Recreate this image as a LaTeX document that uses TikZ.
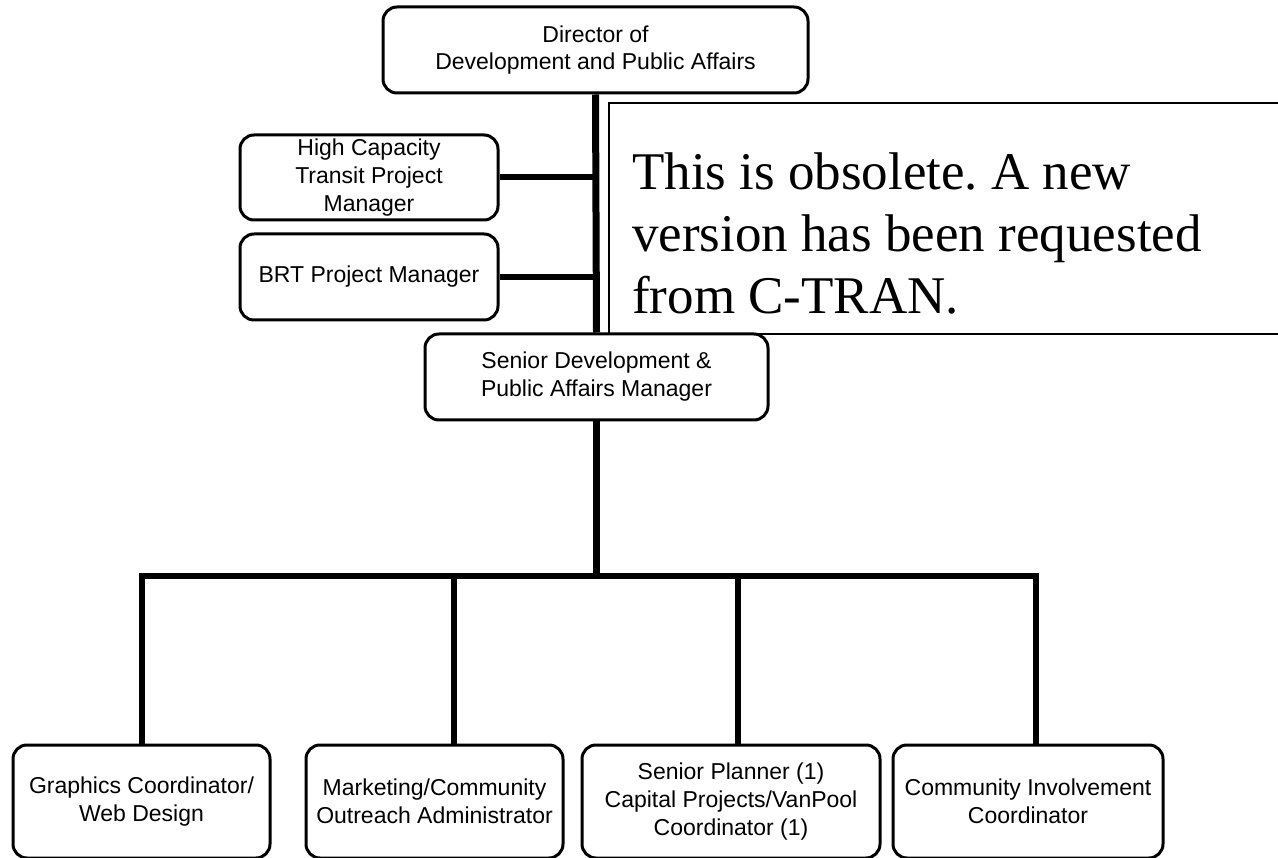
\documentclass[tikz,border=0pt]{standalone}
\usepackage{fontspec}
\setmainfont{Liberation Sans}
\newfontfamily\noticefont{Liberation Serif}
\frenchspacing
\begin{document}
\begin{tikzpicture}[x=1pt,y=-1pt,
  box/.style={draw, line width=3pt, rounded corners=14pt, fill=white,
    align=center, inner sep=0pt, font=\fontsize{23}{28}\selectfont},
  link/.style={line width=6pt},
  trunk/.style={line width=7pt},
  notice/.style={draw, line width=1.5pt, fill=white}]
\useasboundingbox (0,0) rectangle (1278,858);
\fill[white] (0,0) rectangle (1278,858);

% notice panel, open to the right edge
\draw[notice] (609,103) rectangle (1290,334);
\node[anchor=north west, inner sep=0pt, align=left,
  font=\noticefont\fontsize{53}{62}\selectfont] (note) at (632,153)
  {This is obsolete. A new\\version has been requested\\from C-TRAN.};

% upper level
\node[box, minimum width=425pt, minimum height=86pt,
  font=\fontsize{23}{27}\selectfont] (dir) at (595.5,50)
  {Director of\\Development and Public Affairs};
\node[box, minimum width=258pt, minimum height=85pt] (hc) at (369,177.5)
  {High Capacity\\Transit Project\\Manager};
\node[box, minimum width=258pt, minimum height=86pt] (brt) at (369,277)
  {BRT Project Manager};
\node[box, minimum width=343pt, minimum height=86pt] (sdm) at (596.5,377)
  {Senior Development \&\\Public Affairs Manager};

% staff level
\node[box, minimum width=257pt, minimum height=113pt] (g1) at (141.5,801.5)
  {Graphics Coordinator/\\Web Design};
\node[box, minimum width=257pt, minimum height=113pt] (g2) at (434.5,801.5)
  {Marketing/Community\\Outreach Administrator};
\node[box, minimum width=298pt, minimum height=113pt] (g3) at (731,801.5)
  {Senior Planner (1)\\Capital Projects/VanPool\\Coordinator (1)};
\node[box, minimum width=270pt, minimum height=113pt] (g4) at (1028,801.5)
  {Community Involvement\\Coordinator};

% drop points on the distribution bar
\coordinate (d1) at (142,576);
\coordinate (d2) at (454,576);
\coordinate (d3) at (738,576);
\coordinate (d4) at (1036,576);

% connectors
\draw[trunk] (dir.south) -- (sdm.north);
\draw[link] (hc.east) -- (hc.east -| dir.south);
\draw[link] (brt.east) -- (brt.east -| dir.south);
\draw[trunk] (sdm.south) -- (sdm.south |- d1);
\draw[link, miter limit=10] (g1.north -| d1) -- (d1) -- (d4) -- (g4.north -| d4);
\draw[link] (d2) -- (g2.north -| d2);
\draw[link] (d3) -- (g3.north -| d3);
\end{tikzpicture}
\end{document}
